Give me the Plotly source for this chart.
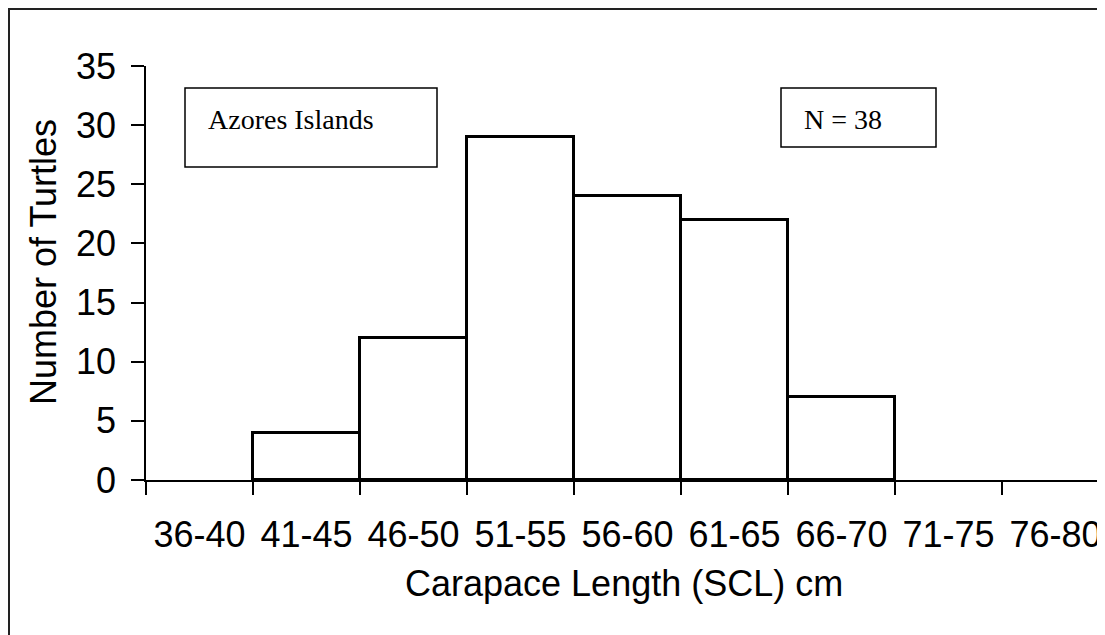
import plotly.graph_objects as go

# size classes (straight carapace length, cm) and turtle counts
size_classes = ['36-40', '41-45', '46-50', '51-55', '56-60', '61-65', '66-70', '71-75', '76-80']
turtle_counts = [0, 4, 12, 29, 24, 22, 7, 0, 0]

y_ticks = [0, 5, 10, 15, 20, 25, 30, 35]

SANS = 'Liberation Sans, Arial, sans-serif'
SERIF = 'Liberation Serif, Times New Roman, serif'

# the page body has an 8px margin, so work in screen pixels and shift
OFF = 8
# plot area in figure pixels
L, T, B = 146 - OFF, 66 - OFF, 480 - OFF
FIG_W, FIG_H = 1105, 635
W, H = FIG_W - L, B - T
CAT_W = 107  # px per size class


def px(x):
    return (x - OFF - L) / W


def py(y):
    return (B - (y - OFF)) / H


# empty classes get no outline at all (as in the original)
bar_heights = [c if c else None for c in turtle_counts]

fig = go.Figure(go.Bar(
    x=size_classes, y=bar_heights, width=1,
    marker=dict(color='white', line=dict(color='black', width=3)),
    hoverinfo='x+y',
))

fig.update_layout(
    width=FIG_W, height=FIG_H,
    margin=dict(l=L, r=0, t=T, b=FIG_H - B, pad=0),
    paper_bgcolor='white', plot_bgcolor='white',
    showlegend=False, bargap=0,
    font=dict(family=SANS, size=36, color='black'),
)

fig.update_xaxes(
    type='category', range=[-0.5, -0.5 + W / CAT_W],
    tickson='boundaries', ticks='outside', ticklen=13, tickwidth=1.5, tickcolor='black',
    showline=True, linecolor='black', linewidth=1.5, showgrid=False,
    tickfont=dict(family=SANS, size=36, color='black'),
    ticklabelstandoff=22,
)
fig.update_yaxes(
    range=[0, 35], tickvals=y_ticks,
    ticks='outside', ticklen=13, tickwidth=1.5, tickcolor='black',
    showline=True, linecolor='black', linewidth=1.5, showgrid=False, zeroline=False,
    tickfont=dict(family=SANS, size=36, color='black'),
    ticklabelstandoff=8,
)

# axis titles
fig.add_annotation(text='Number of Turtles', xref='paper', yref='paper',
                   x=px(43), y=py(262), textangle=-90, showarrow=False,
                   xanchor='center', yanchor='middle',
                   font=dict(family=SANS, size=36, color='black'))
fig.add_annotation(text='Carapace Length (SCL) cm', xref='paper', yref='paper',
                   x=px(624), y=py(583), showarrow=False,
                   xanchor='center', yanchor='middle',
                   font=dict(family=SANS, size=36, color='black'))

# text boxes
fig.add_shape(type='rect', xref='paper', yref='paper',
              x0=px(185), x1=px(437), y0=py(167), y1=py(88),
              line=dict(color='black', width=1.5), fillcolor='white')
fig.add_annotation(text='Azores Islands', xref='paper', yref='paper',
                   x=px(206), y=py(119), showarrow=False,
                   xanchor='left', yanchor='middle',
                   font=dict(family=SERIF, size=28, color='black'))

fig.add_shape(type='rect', xref='paper', yref='paper',
              x0=px(781), x1=px(936), y0=py(147), y1=py(88),
              line=dict(color='black', width=1.5), fillcolor='white')
fig.add_annotation(text='N = 38', xref='paper', yref='paper',
                   x=px(802), y=py(119), showarrow=False,
                   xanchor='left', yanchor='middle',
                   font=dict(family=SERIF, size=28, color='black'))

# outer chart border (runs off the right and bottom edge)
fig.add_shape(type='rect', xref='paper', yref='paper',
              x0=px(9), x1=px(1200), y0=py(700), y1=py(9),
              line=dict(color='#222', width=2), fillcolor='rgba(0,0,0,0)')

fig.write_html('out.html')
